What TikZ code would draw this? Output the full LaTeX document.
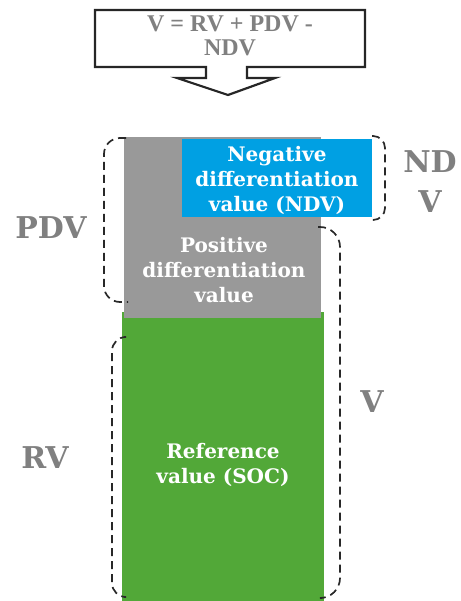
\documentclass[tikz,border=0pt]{standalone}
\usepackage{fontspec}
\setmainfont{DejaVu Serif}
\newfontfamily\timesfont{Liberation Serif}
\definecolor{pdvgray}{RGB}{153,153,153}
\definecolor{ndvblue}{RGB}{0,160,227}
\definecolor{rvgreen}{RGB}{82,168,56}
\definecolor{labelgray}{RGB}{128,128,128}
\definecolor{dashcol}{RGB}{40,40,40}
\tikzset{
  block/.style={draw=none, inner sep=0pt, anchor=north west},
  boxtext/.style={text=white, align=center, font=\bfseries\fontsize{20}{25}\selectfont},
  sidelabel/.style={text=labelgray, align=center, font=\bfseries\fontsize{30}{40}\selectfont},
  bracket/.style={draw=dashcol, line width=1.7pt, dash pattern=on 8pt off 5pt, rounded corners=16pt},
}
\begin{document}
\begin{tikzpicture}[x=1pt,y=-1pt]
\useasboundingbox (0,0) rectangle (460,601);

% formula callout with downward arrow
\draw[line width=2.2pt, draw=black!85, fill=white]
  (95,10) -- (365,10) -- (365,67) -- (247,67) -- (247,78) -- (275,78)
  -- (228,95) -- (177,78) -- (206,78) -- (206,67) -- (95,67) -- cycle;
\node[text=labelgray, align=center, inner sep=0pt, font=\timesfont\bfseries\fontsize{24}{24}\selectfont]
  (formula) at (230,36) {V = RV + PDV -\\NDV};

% stacked value blocks
\node[block, fill=rvgreen, minimum width=202pt, minimum height=289pt] (rv) at (122,312) {};
\node[block, fill=pdvgray, minimum width=197pt, minimum height=181pt] (pdv) at (124,137) {};
\node[block, fill=ndvblue, minimum width=190pt, minimum height=78pt] (ndv) at (182,139) {};

\node[boxtext] (ndvtext) at (277,180) {Negative\\differentiation\\value (NDV)};
\node[boxtext] (pdvtext) at (224,270) {Positive\\differentiation\\value};
\node[boxtext] (rvtext) at (223,465) {Reference\\value (SOC)};

% dashed brackets
\draw[bracket] (126,138) -- (104,138) -- (104,302) -- (128,302);
\draw[bracket, rounded corners=12pt] (372,136) -- (385,136) -- (385,220) -- (374,220);
\draw[bracket, rounded corners=20pt] (318,227) -- (340,227) -- (340,598) -- (322,598);
\draw[bracket, rounded corners=14pt] (124,337) -- (112,337) -- (112,597) -- (124,597);

% side labels
\node[sidelabel] (pdvlabel) at (51,228) {PDV};
\node[sidelabel] (rvlabel) at (45,458) {RV};
\node[sidelabel] (vlabel) at (372,402) {V};
\node[sidelabel] (ndvlabel) at (430,182) {ND\\V};
\end{tikzpicture}
\end{document}
